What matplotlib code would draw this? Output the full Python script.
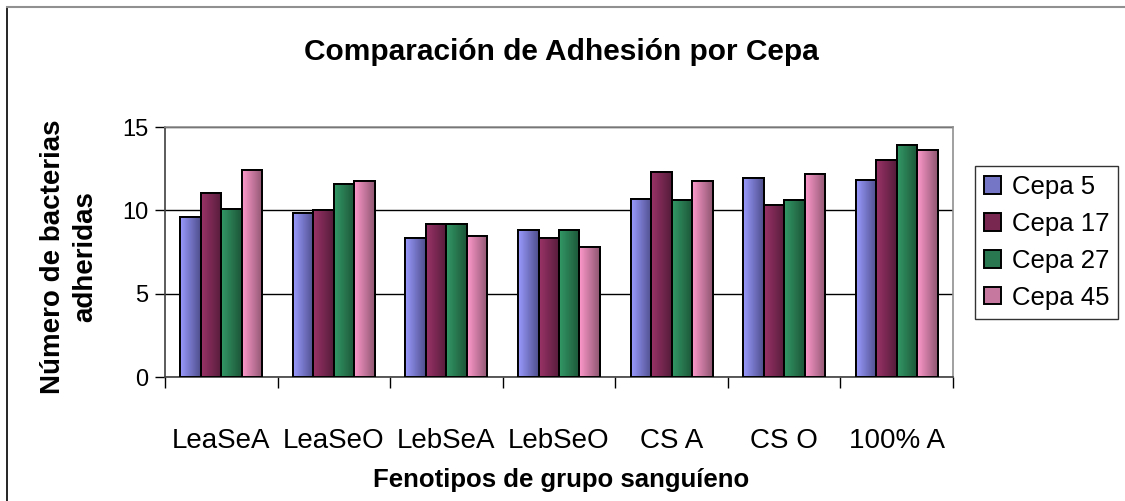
import numpy as np
import matplotlib
matplotlib.use("Agg")
import matplotlib.pyplot as plt
from matplotlib.colors import LinearSegmentedColormap
from matplotlib.lines import Line2D

plt.rcParams['font.family'] = ['Liberation Sans', 'DejaVu Sans']

categories = ["LeaSeA", "LeaSeO", "LebSeA", "LebSeO", "CS A", "CS O", "100% A"]
series_names = ["Cepa 5", "Cepa 17", "Cepa 27", "Cepa 45"]
cepa5 = [9.6, 9.85, 8.35, 8.85, 10.7, 11.95, 11.85]
cepa17 = [11.05, 10.0, 9.15, 8.35, 12.3, 10.3, 13.0]
cepa27 = [10.1, 11.6, 9.15, 8.85, 10.6, 10.6, 13.95]
cepa45 = [12.4, 11.75, 8.45, 7.8, 11.75, 12.2, 13.6]
yticks = [0, 5, 10, 15]

series = [cepa5, cepa17, cepa27, cepa45]
light = ["#9A9AFF", "#9A3368", "#339966", "#FF99CC"]
dark = ["#4E4E8C", "#551C3A", "#1C5538", "#8E5670"]
mid = ["#7676C6", "#782850", "#287750", "#C7789F"]

W, H = 1125, 501
fig = plt.figure(figsize=(W / 100, H / 100), dpi=100)
ax = fig.add_axes([165 / W, 1 - 377 / H, (953 - 165) / W, (377 - 127) / H])

x = np.arange(len(categories))
bw = 0.182
for i, vals in enumerate(series):
    pos = x + (i - 1.5) * bw
    bars = ax.bar(pos, vals, width=bw, color=mid[i], edgecolor="black",
                  linewidth=1.4, zorder=3, label=series_names[i])
    cmap = LinearSegmentedColormap.from_list("g%d" % i, [light[i], dark[i]])
    grad = np.linspace(0, 1, 64).reshape(1, -1)
    for b in bars:
        bx, by = b.get_x(), b.get_y()
        bwid, bh = b.get_width(), b.get_height()
        im = ax.imshow(grad, cmap=cmap, extent=[bx, bx + bwid, by, by + bh],
                       aspect="auto", zorder=3.5, interpolation="bilinear")
        im.set_clip_path(b)
    for b in bars:
        ax.add_patch(plt.Rectangle((b.get_x(), b.get_y()), b.get_width(), b.get_height(),
                                   fill=False, edgecolor="black", linewidth=1.4, zorder=4))

ax.set_xlim(-0.5, len(categories) - 0.5)
ax.set_ylim(0, 15)
ax.set_yticks(yticks)
ax.set_yticklabels([str(v) for v in yticks], fontsize=17)
ax.set_xticks(x)
ax.set_xticklabels(categories, fontsize=20)
ax.set_xticks(np.arange(-0.5, len(categories), 1), minor=True)
ax.tick_params(axis="x", which="major", length=0, pad=37)
ax.tick_params(axis="x", which="minor", length=8, width=1, direction="out")
ax.tick_params(axis="y", length=7, width=1, direction="out", pad=5)
ax.yaxis.grid(True, color="black", linewidth=1, zorder=0)
ax.set_axisbelow(True)
for s in ["left", "bottom"]:
    ax.spines[s].set_color("#404040")
    ax.spines[s].set_linewidth(1.2)
for s in ["top", "right"]:
    ax.spines[s].set_color("#909090")
    ax.spines[s].set_linewidth(1.2)

fig.text(561 / W, 1 - 487 / H, "Fenotipos de grupo sanguíeno", ha="center", va="baseline",
         fontsize=18.5, fontweight="bold")
fig.text(69 / W, 1 - 257 / H, "Número de bacterias\nadheridas", ha="center", va="center",
         rotation=90, fontsize=20, fontweight="bold", linespacing=1.3,
         multialignment="center")
fig.text(561 / W, 1 - 60 / H, "Comparación de Adhesión por Cepa", ha="center", va="baseline",
         fontsize=21.5, fontweight="bold")

leg = fig.legend(loc="upper left", bbox_to_anchor=(975 / W, 1 - 166 / H), fontsize=18.5,
                 frameon=True, fancybox=False, edgecolor="black", handlelength=0.68,
                 handleheight=0.68, handletextpad=0.4, labelspacing=0.5,
                 borderpad=0.35, borderaxespad=0)
leg.get_frame().set_linewidth(1)

fig.add_artist(Line2D([7 / W, 7 / W], [0, 1 - 7 / H], color="black", linewidth=1.2,
                      transform=fig.transFigure))
fig.add_artist(Line2D([7 / W, 1], [1 - 7 / H, 1 - 7 / H], color="#909090", linewidth=1.5,
                      transform=fig.transFigure))

fig.savefig("out.png", dpi=100)
